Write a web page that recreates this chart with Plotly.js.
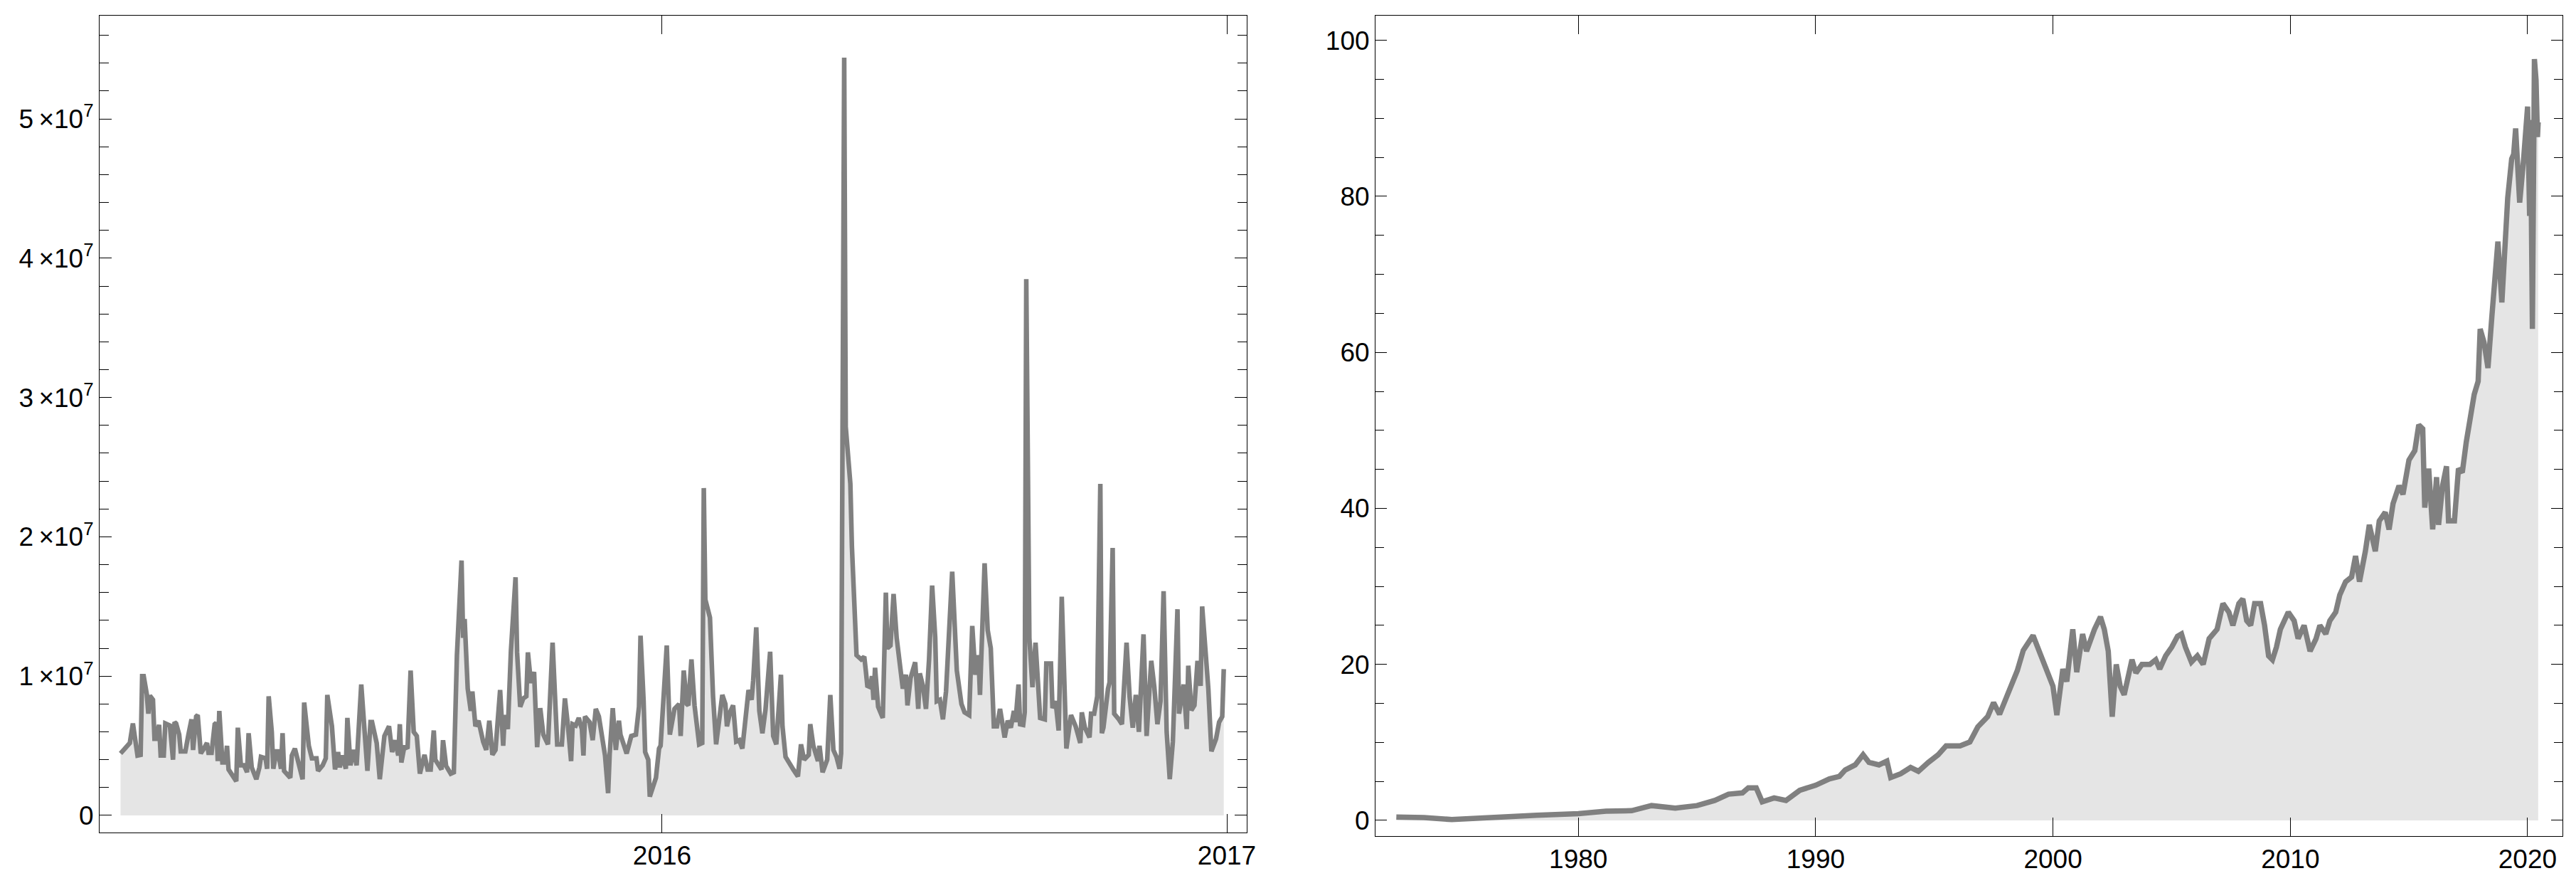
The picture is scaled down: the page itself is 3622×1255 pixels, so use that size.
<!DOCTYPE html>
<html>
<head>
<meta charset="utf-8">
<script src="https://cdn.plot.ly/plotly-3.0.1.min.js"></script>
<style>html,body{margin:0;padding:0;background:#fff;}#chart{width:3622px;height:1255px;}</style>
</head>
<body>
<div id="chart"></div>
<script>
// ---- Left panel: daily volume (millions of shares), 2015-2016 ----
const volDates = [
'2015-01-15','2015-01-21','2015-01-23','2015-01-26','2015-01-28','2015-01-29','2015-01-30','2015-02-01','2015-02-02','2015-02-03',
'2015-02-05','2015-02-06','2015-02-07','2015-02-09','2015-02-10','2015-02-12','2015-02-13','2015-02-15','2015-02-16','2015-02-18',
'2015-02-19','2015-02-20','2015-02-22','2015-02-23','2015-02-26','2015-02-28','2015-03-02','2015-03-03','2015-03-05','2015-03-06',
'2015-03-08','2015-03-10','2015-03-12','2015-03-13','2015-03-15','2015-03-17','2015-03-18','2015-03-19','2015-03-20','2015-03-22',
'2015-03-24','2015-03-25','2015-03-26','2015-03-31','2015-04-01','2015-04-03','2015-04-05','2015-04-07','2015-04-08','2015-04-10',
'2015-04-13','2015-04-15','2015-04-16','2015-04-19','2015-04-20','2015-04-21','2015-04-23','2015-04-24','2015-04-26','2015-04-27',
'2015-04-29','2015-04-30','2015-05-01','2015-05-05','2015-05-06','2015-05-08','2015-05-09','2015-05-11','2015-05-13','2015-05-14',
'2015-05-17','2015-05-19','2015-05-22','2015-05-23','2015-05-26','2015-05-28','2015-05-29','2015-06-01','2015-06-03','2015-06-05',
'2015-06-06','2015-06-08','2015-06-10','2015-06-11','2015-06-13','2015-06-15','2015-06-17','2015-06-20','2015-06-22','2015-06-24',
'2015-06-26','2015-06-27','2015-06-30','2015-07-02','2015-07-05','2015-07-08','2015-07-10','2015-07-12','2015-07-14','2015-07-15',
'2015-07-16','2015-07-18','2015-07-20','2015-07-22','2015-07-24','2015-07-26','2015-07-28','2015-07-31','2015-08-02','2015-08-04',
'2015-08-06','2015-08-07','2015-08-11','2015-08-12','2015-08-14','2015-08-17','2015-08-19','2015-08-20','2015-08-21','2015-08-24',
'2015-08-25','2015-08-26','2015-08-28','2015-08-30','2015-08-31','2015-09-02','2015-09-04','2015-09-07','2015-09-09','2015-09-11',
'2015-09-13','2015-09-15','2015-09-18','2015-09-20','2015-09-21','2015-09-23','2015-09-25','2015-09-28','2015-09-29','2015-10-01',
'2015-10-03','2015-10-05','2015-10-06','2015-10-08','2015-10-10','2015-10-12','2015-10-14','2015-10-16','2015-10-19','2015-10-22',
'2015-10-25','2015-10-28','2015-10-30','2015-11-01','2015-11-03','2015-11-04','2015-11-06','2015-11-08','2015-11-10','2015-11-11',
'2015-11-12','2015-11-15','2015-11-17','2015-11-19','2015-11-21','2015-11-25','2015-11-27','2015-11-28','2015-11-30','2015-12-02',
'2015-12-04','2015-12-05','2015-12-09','2015-12-12','2015-12-15','2015-12-17','2015-12-18','2015-12-20','2015-12-21','2015-12-23',
'2015-12-24','2015-12-28','2015-12-30','2015-12-31',
'2016-01-04','2016-01-06','2016-01-09','2016-01-12','2016-01-13','2016-01-15','2016-01-17','2016-01-18','2016-01-20','2016-01-22',
'2016-01-25','2016-01-27','2016-01-28','2016-01-29','2016-01-30','2016-02-01','2016-02-03','2016-02-05','2016-02-09','2016-02-11',
'2016-02-12','2016-02-14','2016-02-16','2016-02-18','2016-02-20','2016-02-22','2016-02-26','2016-02-28','2016-02-29','2016-03-02',
'2016-03-04','2016-03-06','2016-03-08','2016-03-11','2016-03-13','2016-03-15','2016-03-18','2016-03-19','2016-03-21','2016-03-23',
'2016-03-26','2016-03-29','2016-03-31','2016-04-02','2016-04-05','2016-04-06','2016-04-08','2016-04-11','2016-04-12','2016-04-14',
'2016-04-17','2016-04-19','2016-04-21','2016-04-23','2016-04-25','2016-04-26','2016-04-27','2016-04-28','2016-04-29','2016-05-02',
'2016-05-03','2016-05-04','2016-05-05','2016-05-06','2016-05-09','2016-05-11','2016-05-12','2016-05-13','2016-05-15','2016-05-16',
'2016-05-17','2016-05-18','2016-05-20','2016-05-23','2016-05-25','2016-05-26','2016-05-28','2016-05-30','2016-06-01','2016-06-03',
'2016-06-05','2016-06-07','2016-06-08','2016-06-10','2016-06-13','2016-06-15','2016-06-16','2016-06-18','2016-06-20','2016-06-22',
'2016-06-24','2016-06-26','2016-06-27','2016-06-29','2016-07-01','2016-07-03','2016-07-05','2016-07-07','2016-07-10','2016-07-13',
'2016-07-15','2016-07-18','2016-07-20','2016-07-22','2016-07-24','2016-07-25','2016-07-28','2016-07-30','2016-08-01','2016-08-03',
'2016-08-05','2016-08-07','2016-08-10','2016-08-12','2016-08-14','2016-08-16','2016-08-17','2016-08-19','2016-08-20','2016-08-22',
'2016-08-23','2016-08-24','2016-08-26','2016-08-28','2016-08-30','2016-09-01','2016-09-02','2016-09-05','2016-09-06','2016-09-09',
'2016-09-10','2016-09-12','2016-09-14','2016-09-16','2016-09-18','2016-09-19','2016-09-22','2016-09-25','2016-09-28','2016-09-29',
'2016-10-01','2016-10-04','2016-10-05','2016-10-07','2016-10-09','2016-10-11','2016-10-12','2016-10-13','2016-10-16','2016-10-17',
'2016-10-19','2016-10-20','2016-10-23','2016-10-25','2016-10-28','2016-10-30','2016-11-01','2016-11-03','2016-11-05','2016-11-08',
'2016-11-10','2016-11-11','2016-11-13','2016-11-15','2016-11-17','2016-11-19','2016-11-21','2016-11-23','2016-11-25','2016-11-27',
'2016-11-30','2016-12-01','2016-12-04','2016-12-06','2016-12-07','2016-12-09','2016-12-11','2016-12-13','2016-12-15','2016-12-16',
'2016-12-18','2016-12-20','2016-12-22','2016-12-25','2016-12-27','2016-12-29','2016-12-30'
];
const volMillions = [
4.45,5.2,6.6,4.3,4.35,10.0,10.0,8.7,7.3,8.6,
8.3,5.5,5.5,6.5,4.3,4.3,6.6,6.5,6.45,4.0,
6.7,6.6,5.8,4.6,4.6,5.8,6.9,4.7,7.1,7.2,
4.45,4.8,5.2,4.5,4.5,6.55,6.65,3.9,7.5,3.8,
3.8,5.0,3.3,2.45,6.3,3.6,3.6,3.1,5.9,3.45,
2.6,3.45,4.2,4.1,3.35,8.55,6.0,3.35,4.6,4.6,
3.35,5.9,3.2,2.7,4.3,4.8,4.3,3.35,2.6,8.1,
5.0,4.1,4.1,3.2,3.6,4.1,8.65,6.4,3.3,4.55,
3.45,4.3,3.35,7.0,3.6,4.7,3.6,9.4,6.0,3.2,
6.7,6.7,5.2,2.6,5.7,6.4,4.55,5.4,4.3,6.55,
3.8,5.0,4.8,10.4,6.0,5.7,3.0,4.35,3.3,3.3,
6.1,4.0,3.3,5.4,3.55,3.0,3.1,6.2,11.5,18.3,
12.75,14.1,9.1,7.5,8.9,6.4,6.8,5.3,4.7,6.8,
4.35,4.7,9.0,5.0,7.2,6.2,11.8,17.1,11.7,7.8,
8.4,8.55,11.7,9.5,10.3,4.9,7.7,5.8,5.1,12.4,
5.1,5.1,8.4,6.4,3.9,6.55,6.45,7.0,6.2,4.3,
7.1,6.7,5.4,7.65,7.1,4.3,1.6,4.4,7.7,4.7,
6.8,5.8,4.45,5.7,5.8,7.8,12.9,8.2,4.55,4.0,
1.35,2.7,4.8,5.0,
12.2,5.8,7.65,8.0,5.7,10.4,8.0,7.9,11.2,7.9,
5.1,5.2,23.5,15.5,15.1,14.2,8.55,5.1,8.65,8.0,
6.4,7.4,7.9,5.3,5.4,4.8,9.0,8.3,9.65,13.5,
7.5,5.9,7.6,11.75,5.7,5.1,10.1,6.4,4.2,3.8,
3.3,2.8,5.1,4.0,4.35,6.55,5.0,3.9,5.0,3.1,
4.0,8.65,4.7,4.2,3.35,4.45,37.0,54.4,27.9,23.8,
19.3,16.4,14.0,11.5,11.2,11.4,10.4,9.3,9.2,10.0,
8.3,10.6,7.8,7.0,16.0,12.0,12.2,15.9,12.75,10.75,
9.1,10.1,7.9,9.85,11.0,7.65,10.2,9.3,7.65,11.2,
16.5,12.75,8.2,8.3,6.9,8.9,13.7,17.5,10.4,8.0,
7.4,7.2,13.6,10.1,11.5,8.65,18.1,13.3,12.0,6.4,
6.4,7.65,5.6,6.8,6.3,7.5,6.7,9.4,6.55,6.5,
7.4,38.5,12.75,9.2,12.4,9.1,7.0,6.9,10.9,10.9,
7.7,8.2,6.1,15.7,9.65,4.8,7.2,6.4,5.2,7.4,
6.3,5.6,7.3,7.3,8.55,23.8,5.9,6.3,9.1,9.55,
19.2,7.3,6.9,6.55,12.4,8.5,6.3,8.65,6.0,13.0,
5.7,7.8,11.1,9.2,6.55,8.2,16.1,6.0,2.6,5.3,
14.8,7.3,9.4,6.2,10.75,7.55,7.9,11.1,9.3,15.0,
12.2,9.1,4.6,5.5,6.7,7.1,10.5
];

// ---- Right panel: price history, 1972-2020 ----
const priceDates = [
'1972-05','1973-07','1974-09','1976-05','1978-04','1980-01','1981-03','1982-04','1983-02','1984-02',
'1985-01','1985-10','1986-05','1986-12','1987-03','1987-07','1987-10','1988-04','1988-10','1989-05',
'1990-01','1990-08','1991-01','1991-04','1991-09','1992-01','1992-04','1992-09','1993-01','1993-03',
'1993-08','1994-01','1994-05','1994-10','1995-03','1995-07','1996-02','1996-07','1996-11','1997-04',
'1997-07','1997-10','1998-03','1998-07','1998-10','1999-03','1999-07','1999-10','2000-01','2000-03',
'2000-05','2000-06','2000-08','2000-11','2001-01','2001-04','2001-06','2001-10','2002-01','2002-03',
'2002-05','2002-07','2002-09','2002-11','2003-01','2003-05','2003-07','2003-10','2004-02','2004-05',
'2004-07','2004-10','2005-01','2005-04','2005-06','2005-08','2005-11','2006-02','2006-05','2006-08',
'2006-12','2007-03','2007-06','2007-08','2007-11','2008-01','2008-03','2008-05','2008-07','2008-10',
'2008-12','2009-02','2009-04','2009-06','2009-08','2009-12','2010-03','2010-05','2010-08','2010-11',
'2011-02','2011-04','2011-07','2011-09','2011-12','2012-02','2012-05','2012-08','2012-10','2012-12',
'2013-03','2013-05','2013-08','2013-10','2014-01','2014-03','2014-05','2014-08','2014-10','2015-01',
'2015-04','2015-06','2015-08','2015-09','2015-11','2016-01','2016-03','2016-04','2016-06','2016-08',
'2016-09','2016-12','2017-02','2017-04','2017-06','2017-08','2017-10','2017-12','2018-01','2018-03',
'2018-05','2018-07','2018-09','2018-10','2018-12','2019-02','2019-03','2019-05','2019-06','2019-07',
'2019-08','2019-09','2019-11','2019-12','2020-01','2020-02-01','2020-02-15','2020-03-15','2020-04-01','2020-04-15',
'2020-05-10','2020-06-01','2020-06-12'
];
const priceValues = [
0.44,0.37,0.11,0.44,0.67,0.86,1.19,1.25,1.9,1.58,
1.9,2.56,3.37,3.53,4.18,4.18,2.39,2.88,2.56,3.86,
4.51,5.33,5.65,6.47,7.12,8.42,7.44,7.12,7.61,5.49,
5.98,6.79,6.3,7.44,8.42,9.56,9.56,10.05,12.0,13.3,
15.1,13.6,16.9,19.2,21.8,23.7,21.1,19.2,17.2,13.5,
17.5,19.4,17.8,24.5,19.0,23.9,21.7,24.5,26.1,24.5,
21.7,13.3,20.0,17.2,16.1,20.6,18.9,20.0,20.0,20.6,
19.4,21.1,22.2,23.6,23.9,22.2,20.3,21.1,20.0,23.3,
24.5,27.8,26.7,25.0,27.8,28.4,25.6,25.0,27.8,27.8,
25.0,21.1,20.6,22.2,24.5,26.7,25.6,23.3,25.0,21.7,
23.3,25.0,23.9,25.6,26.7,28.9,30.6,31.2,33.9,30.6,
34.5,37.9,34.5,38.4,39.5,37.3,40.6,42.9,41.8,46.2,
47.4,50.7,50.2,40.1,45.1,37.3,44.0,37.9,42.9,45.4,
38.4,38.4,45.1,44.6,48.5,51.3,54.6,56.3,63.0,61.3,
58.0,64.7,70.3,74.2,66.4,74.7,79.8,84.8,85.4,88.7,
83.7,79.2,84.8,88.2,91.5,77.5,89.8,63.0,88.0,97.6,
94.9,87.6,89.5
];

// ---- Tick labels ----
const volTickVals = [0, 10, 20, 30, 40, 50];
const volTickText = ['0', '1\u2009×10<sup>7</sup>', '2\u2009×10<sup>7</sup>', '3\u2009×10<sup>7</sup>', '4\u2009×10<sup>7</sup>', '5\u2009×10<sup>7</sup>'];
const volYearTicks = ['2016-01-01', '2017-01-01'];
const volYearText = ['2016', '2017'];
const priceTickVals = [0, 20, 40, 60, 80, 100];
const priceTickText = ['0', '20', '40', '60', '80', '100'];
const priceYearTicks = ['1980-01-01', '1990-01-01', '2000-01-01', '2010-01-01', '2020-01-01'];
const priceYearText = ['1980', '1990', '2000', '2010', '2020'];

const LINE = '#808080', FILL = '#e5e5e5';
const tickFont = {family: 'Liberation Sans, Arial, sans-serif', size: 37, color: '#000'};
const frame = {showline: true, linecolor: '#000', linewidth: 1, mirror: 'ticks', showgrid: false,
  zeroline: false, ticks: 'inside', tickcolor: '#000', tickwidth: 1, tickfont: tickFont, automargin: false, fixedrange: true};

const traces = [
  {x: volDates, y: volMillions, type: 'scatter', mode: 'lines', fill: 'tozeroy', fillcolor: FILL,
   line: {color: LINE, width: 6.5}, xaxis: 'x', yaxis: 'y', hoverinfo: 'skip'},
  {x: priceDates, y: priceValues, type: 'scatter', mode: 'lines', fill: 'tozeroy', fillcolor: FILL,
   line: {color: LINE, width: 7.5}, xaxis: 'x2', yaxis: 'y2', hoverinfo: 'skip'}
];

const layout = {
  width: 3622, height: 1255, margin: {l: 0, r: 0, t: 0, b: 0, pad: 0},
  paper_bgcolor: '#fff', plot_bgcolor: '#fff', showlegend: false,
  xaxis: Object.assign({}, frame, {domain: [0.038653, 0.483987], anchor: 'y', type: 'date',
    range: ['2015-01-01 09:36', '2017-01-13 21:36'], tickmode: 'array', tickvals: volYearTicks, ticktext: volYearText,
    ticklen: 26}),
  yaxis: Object.assign({}, frame, {domain: [0.067729, 0.982789], anchor: 'x',
    range: [-1.226, 57.43], tickmode: 'array', tickvals: volTickVals, ticktext: volTickText, ticklen: 17,
    minor: {tickmode: 'linear', tick0: 0, dtick: 2, ticks: 'inside', ticklen: 13, tickcolor: '#000', tickwidth: 1, showgrid: false}}),
  xaxis2: Object.assign({}, frame, {domain: [0.533959, 0.994754], anchor: 'y2', type: 'date',
    range: ['1971-06-15', '2021-06-21'], tickmode: 'array', tickvals: priceYearTicks, ticktext: priceYearText,
    ticklen: 26}),
  yaxis2: Object.assign({}, frame, {domain: [0.064064, 0.982789], anchor: 'x2',
    range: [-1.97, 103.2], tickmode: 'array', tickvals: priceTickVals, ticktext: priceTickText, ticklen: 16,
    minor: {tickmode: 'linear', tick0: 0, dtick: 5, ticks: 'inside', ticklen: 12, tickcolor: '#000', tickwidth: 1, showgrid: false}})
};

Plotly.newPlot('chart', traces, layout, {staticPlot: true, displayModeBar: false});
</script>
</body>
</html>
